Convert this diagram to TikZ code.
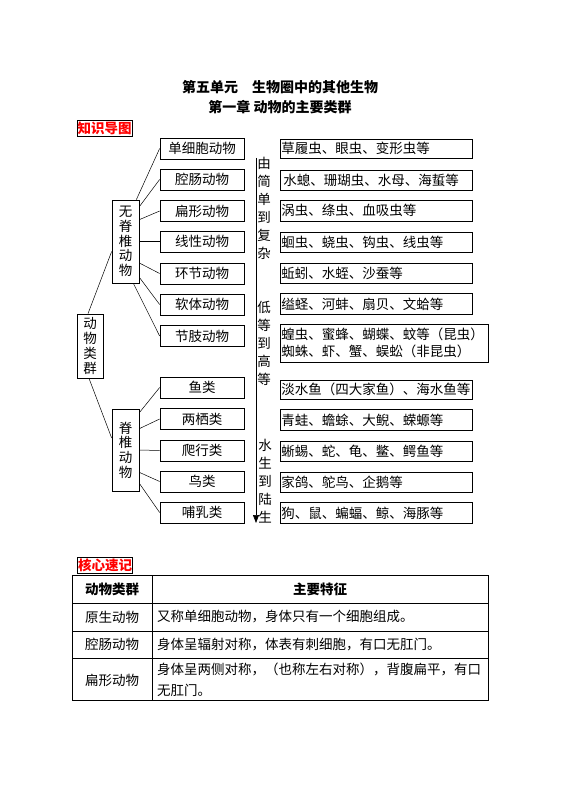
\documentclass[tikz,border=0pt]{standalone}
\usepackage{fontspec}
\setmainfont{Noto Sans CJK SC}
\usetikzlibrary{arrows.meta,calc}
\begin{document}
\begin{tikzpicture}[x=1pt,y=-1pt,
  every node/.style={font=\fontsize{13.5}{16}\selectfont,inner sep=0pt},
  lbox/.style={draw,line width=0.7pt,minimum width=84pt,minimum height=21pt},
  rbox/.style={draw,line width=0.7pt,anchor=north west,inner xsep=1pt,text width=190pt,align=left},
  vbox/.style={draw,line width=0.7pt,minimum width=27pt,align=center,font=\fontsize{13.5}{14.7}\selectfont},
  vtext/.style={align=center,text width=14pt,font=\fontsize{13.5}{18}\selectfont},
  tag/.style={draw,line width=0.7pt,text=red,inner xsep=0.5pt,inner ysep=1.5pt,font=\fontsize{13.5}{16}\selectfont\bfseries},
  conn/.style={line width=0.5pt},
  tline/.style={line width=0.7pt}
]
\useasboundingbox (0,0) rectangle (560,794);

% titles
\node[font=\fontsize{14}{16}\selectfont\bfseries] (t1) at (280,87) {第五单元　生物圈中的其他生物};
\node[font=\fontsize{14}{16}\selectfont\bfseries] (t2) at (280,107) {第一章\ 动物的主要类群};
\node[tag] (tag1) at (104.5,128.5) {知识导图};

% left small boxes
\node[lbox] (L1) at (202,148.5) {单细胞动物};
\node[lbox] (L2) at (202,179.5) {腔肠动物};
\node[lbox] (L3) at (202,211) {扁形动物};
\node[lbox] (L4) at (202,241.5) {线性动物};
\node[lbox] (L5) at (202,273.5) {环节动物};
\node[lbox] (L6) at (202,304.5) {软体动物};
\node[lbox] (L7) at (202,336) {节肢动物};
\node[lbox] (L8) at (202,387.5) {鱼类};
\node[lbox] (L9) at (202,419) {两栖类};
\node[lbox] (L10) at (202,450.5) {爬行类};
\node[lbox] (L11) at (202,481.5) {鸟类};
\node[lbox] (L12) at (202,512.5) {哺乳类};

% group boxes
\node[vbox,minimum height=83pt] (inv) at (125.5,241.5) {无\\脊\\椎\\动\\物};
\node[vbox,minimum height=82pt] (ver) at (125.5,450) {脊\\椎\\动\\物};
\node[vbox,minimum height=64pt,minimum width=26pt] (grp) at (90,346) {动\\物\\类\\群};

% connectors
\draw[conn] ([xshift=-3pt]inv.north east) -- (L1.west);
\draw[conn] ([yshift=-7pt]inv.north east) -- (L2.west);
\draw[conn] ([yshift=-20pt]inv.north east) -- (L3.west);
\draw[conn] (inv.east) -- (L4.west);
\draw[conn] ([yshift=-21.5pt]inv.east) -- (L5.west);
\draw[conn] ([yshift=6pt]inv.south east) -- (L6.west);
\draw[conn] ([xshift=-6pt]inv.south east) -- (L7.west);
\draw[conn] ([yshift=-4pt]ver.north east) -- (L8.west);
\draw[conn] ([yshift=-20pt]ver.north east) -- (L9.west);
\draw[conn] (ver.east) -- (L10.west);
\draw[conn] ([yshift=19pt]ver.south east) -- (L11.west);
\draw[conn] ([yshift=8pt]ver.south east) -- (L12.west);
\draw[conn] ([xshift=-2pt]grp.north) -- ([yshift=-10pt]inv.west);
\draw[conn] ([xshift=-1pt]grp.south) -- ([yshift=12pt]ver.west);

% right boxes
\node[rbox,minimum height=19pt] (R1) at (280,139) {草履虫、眼虫、变形虫等};
\node[rbox,minimum height=20pt] (R2) at (280,170) {\hspace{2pt}水螅、珊瑚虫、水母、海蜇等};
\node[rbox,minimum height=21pt] (R3) at (280,200) {涡虫、绦虫、血吸虫等};
\node[rbox,minimum height=20pt] (R4) at (280,232) {蛔虫、蛲虫、钩虫、线虫等};
\node[rbox,minimum height=20pt] (R5) at (280,263) {蚯蚓、水蛭、沙蚕等};
\node[rbox,minimum height=21pt] (R6) at (280,293) {缢蛏、河蚌、扇贝、文蛤等};
\node[rbox,minimum height=38pt,text width=206pt,font=\fontsize{13.5}{17}\selectfont] (R7) at (280,324) {蝗虫、蜜蜂、蝴蝶、蚊等（昆虫）\\蜘蛛、虾、蟹、蜈蚣（非昆虫）};
\node[rbox,minimum height=19pt] (R8) at (280,380) {淡水鱼（四大家鱼）、海水鱼等};
\node[rbox,minimum height=21pt] (R9) at (280,409) {青蛙、蟾蜍、大鲵、蝾螈等};
\node[rbox,minimum height=20pt] (R10) at (280,441) {蜥蜴、蛇、龟、鳖、鳄鱼等};
\node[rbox,minimum height=20pt] (R11) at (280,472) {家鸽、鸵鸟、企鹅等};
\node[rbox,minimum height=21pt] (R12) at (280,502) {狗、鼠、蝙蝠、鲸、海豚等};

% arrow and vertical texts
\coordinate (atop) at (256,158);
\coordinate (abot) at (256,523);
\draw[line width=0.7pt,-{Triangle[width=6pt,length=8pt]}] (atop) -- (abot);
\node[vtext] (v1) at (264,208) {由\\简\\单\\到\\复\\杂};
\node[vtext] (v2) at (264,343.5) {低\\等\\到\\高\\等};
\node[vtext] (v3) at (265,481) {水\\生\\到\\陆\\生};

% second section
\node[tag] (tag2) at (105,565.5) {核心速记};

\coordinate (tnw) at (72,575);
\coordinate (tse) at (488,700);
\draw[tline] (tnw) rectangle (tse);
\draw[tline] (72,603) -- (488,603);
\draw[tline] (72,631) -- (488,631);
\draw[tline] (72,658) -- (488,658);
\draw[tline] (152,575) -- (152,700);

\node[font=\fontsize{13.5}{16}\selectfont\bfseries] (h1) at (112,589) {动物类群};
\node[font=\fontsize{13.5}{16}\selectfont\bfseries] (h2) at (320,589) {主要特征};
\node (c1) at (112,617) {原生动物};
\node[anchor=west] (d1) at (157,617) {又称单细胞动物，身体只有一个细胞组成。};
\node (c2) at (112,644.5) {腔肠动物};
\node[anchor=west] (d2) at (157,644.5) {身体呈辐射对称，体表有刺细胞，有口无肛门。};
\node (c3) at (112,680) {扁形动物};
\node[anchor=west,align=left,font=\fontsize{13.5}{20.5}\selectfont] (d3) at (157,680) {身体呈两侧对称，（也称左右对称），背腹扁平，有口\\无肛门。};
\end{tikzpicture}
\end{document}
